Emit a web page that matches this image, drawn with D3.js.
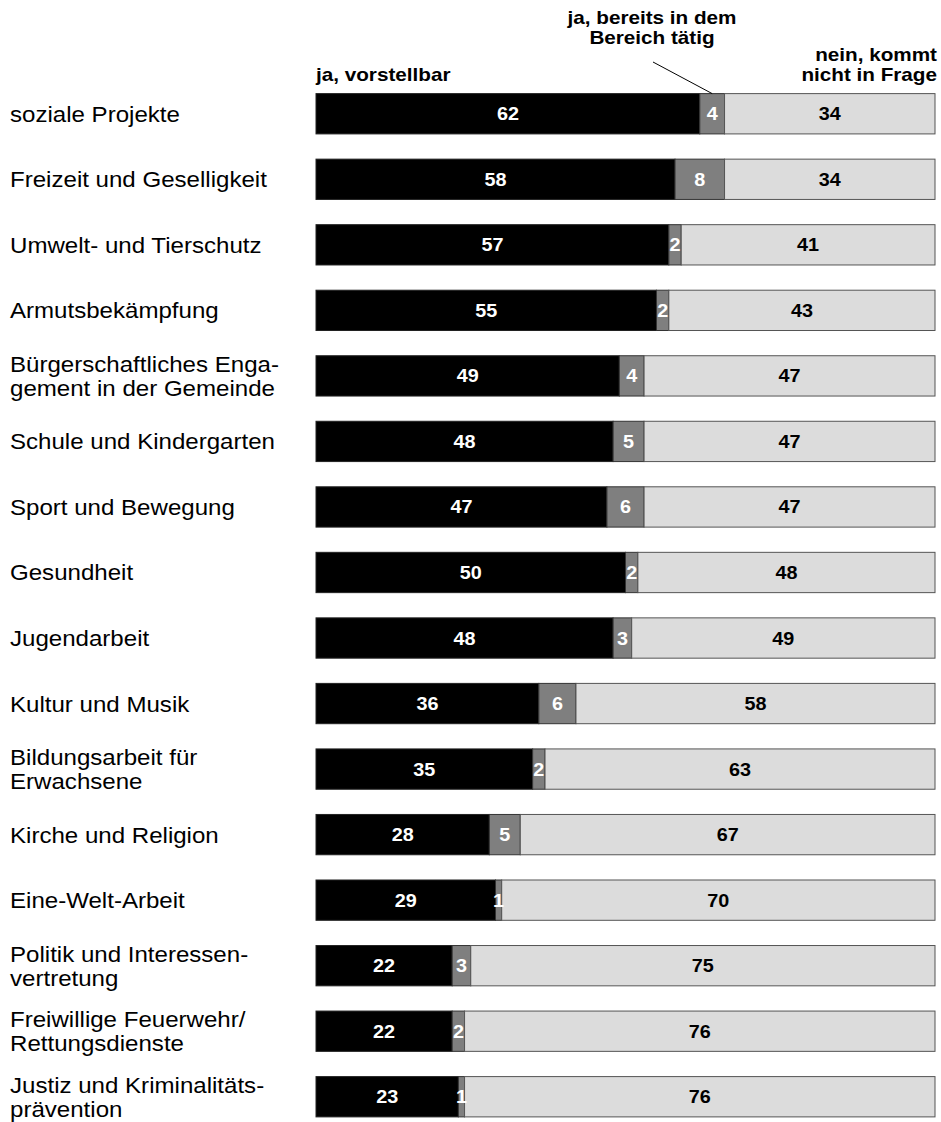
<!DOCTYPE html>
<html><head><meta charset="utf-8">
<script src="https://cdn.jsdelivr.net/npm/d3@7"></script>
<style>body{margin:0;background:#fff}svg{display:block}text{font-family:"Liberation Sans",Arial,Helvetica,sans-serif}</style>
</head><body>
<script>
const categories = [
  ["soziale Projekte"],
  ["Freizeit und Geselligkeit"],
  ["Umwelt- und Tierschutz"],
  ["Armutsbekämpfung"],
  ["Bürgerschaftliches Enga-","gement in der Gemeinde"],
  ["Schule und Kindergarten"],
  ["Sport und Bewegung"],
  ["Gesundheit"],
  ["Jugendarbeit"],
  ["Kultur und Musik"],
  ["Bildungsarbeit für","Erwachsene"],
  ["Kirche und Religion"],
  ["Eine-Welt-Arbeit"],
  ["Politik und Interessen-","vertretung"],
  ["Freiwillige Feuerwehr/","Rettungsdienste"],
  ["Justiz und Kriminalitäts-","prävention"]
];
const vorstellbar = [62,58,57,55,49,48,47,50,48,36,35,28,29,22,22,23];
const taetig      = [4,8,2,2,4,5,6,2,3,6,2,5,1,3,2,1];
const nein        = [34,34,41,43,47,47,47,48,49,58,63,67,70,75,76,76];
const seriesNames = [["ja, vorstellbar"],["ja, bereits in dem","Bereich tätig"],["nein, kommt","nicht in Frage"]];

const W = 941, H = 1122;
const svg = d3.select("body").append("svg").attr("width", W).attr("height", H);

const x = d3.scaleLinear().domain([0, 100]).range([316, 935]);
const y = d3.scaleBand().domain(d3.range(categories.length)).range([80.5, 1130]).paddingInner(0.385).paddingOuter(0.2);

const fills = ["#000000", "#7f7f7f", "#dcdcdc"];
const strokes = ["#222", "#333", "#555"];
const txtCol = ["#fff", "#fff", "#000"];

const rows = categories.map((c, i) => {
  const v = [vorstellbar[i], taetig[i], nein[i]];
  let acc = 0;
  return v.map((val, k) => { const s = acc; acc += val; return {i, k, val, x0: s, x1: acc}; });
});

const g = svg.append("g");
rows.forEach(segs => {
  segs.forEach(s => {
    g.append("rect")
      .attr("x", x(s.x0)).attr("y", y(s.i))
      .attr("width", x(s.x1) - x(s.x0)).attr("height", y.bandwidth())
      .attr("fill", fills[s.k]).attr("stroke", strokes[s.k]).attr("stroke-width", 1);
  });
  segs.forEach(s => {
    const cx = (x(s.x0) + x(s.x1)) / 2, cy = y(s.i) + y.bandwidth() / 2 + 6.5;
    g.append("text")
      .attr("transform", `translate(${cx},${cy}) scale(1.1,1)`)
      .attr("text-anchor", "middle").attr("font-size", 18).attr("font-weight", "bold")
      .attr("fill", txtCol[s.k]).text(s.val);
  });
});

// category labels
categories.forEach((lines, i) => {
  const cy = y(i) + y.bandwidth() / 2;
  const lh = 24;
  lines.forEach((l, j) => {
    const ty = cy + 8 + (j - (lines.length - 1) / 2) * lh;
    svg.append("text").attr("font-size", 22.5).attr("fill", "#000")
      .attr("transform", `translate(10,${ty}) scale(1.07,1)`).text(l);
  });
});

// header labels
const hdr = svg.append("g").attr("font-size", 18).attr("font-weight", "bold").attr("fill", "#000");
function hText(px, py, anchor, str) {
  hdr.append("text").attr("transform", `translate(${px},${py}) scale(1.15,1)`)
    .attr("text-anchor", anchor).text(str);
}
hText(x(0), 81, "start", seriesNames[0][0]);
seriesNames[1].forEach((l, j) => hText(652, 24 + j * 20, "middle", l));
seriesNames[2].forEach((l, j) => hText(937, 61 + j * 20, "end", l));

// leader line to first gray segment
svg.append("line")
  .attr("x1", 653).attr("y1", 62)
  .attr("x2", (x(rows[0][1].x0) + x(rows[0][1].x1)) / 2).attr("y2", y(0))
  .attr("stroke", "#000").attr("stroke-width", 1);
</script>
</body></html>
